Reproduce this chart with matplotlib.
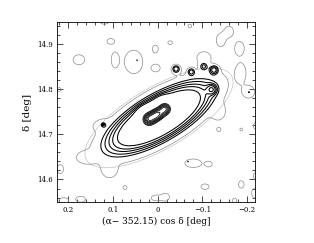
import numpy as np
import matplotlib
matplotlib.use("Agg")
import matplotlib.pyplot as plt
from matplotlib.ticker import MultipleLocator, FuncFormatter

# galaxy model (centre, position angle, scale lengths)
gal_x0, gal_y0 = -0.003, 14.737
gal_pa = 30.0          # deg, counter-clockwise from +x (east to the left)
gal_ha, gal_hb = 0.049, 0.0180

# nucleus knots
nuc_x = [0.020, 0.002, -0.016]
nuc_y = [14.735, 14.746, 14.758]
nuc_amp = [1.9, 1.6, 1.8]
nuc_sig = [0.011, 0.010, 0.010]

blob_x = [0.176, 0.105, 0.096, 0.054, 0.119, 0.220, 0.004, -0.072, -0.028, -0.141,
          -0.160, -0.183, -0.186, -0.204, 0.124, 0.161, 0.107, 0.218, 0.073, 0.210,
          0.172, 0.004, -0.080, -0.115, -0.106, -0.187, -0.222, -0.018, -0.137, -0.187,
          -0.222, -0.222, -0.172, 0.005, -0.103, -0.137]
blob_y = [14.866, 14.907, 14.866, 14.862, 14.951, 14.800, 14.848, 14.941, 14.904, 14.910,
          14.929, 14.892, 14.837, 14.794, 14.720, 14.649, 14.619, 14.623, 14.582, 14.553,
          14.556, 14.559, 14.636, 14.634, 14.584, 14.589, 14.570, 14.561, 14.711, 14.711,
          14.719, 14.608, 14.553, 14.890, 14.872, 14.749]
blob_rx = [0.013, 0.008, 0.007, 0.020, 0.010, 0.004, 0.008, 0.004, 0.005, 0.009,
           0.009, 0.009, 0.008, 0.011, 0.013, 0.013, 0.011, 0.006, 0.004, 0.010,
           0.010, 0.010, 0.018, 0.006, 0.009, 0.006, 0.012, 0.008, 0.004, 0.003,
           0.008, 0.008, 0.005, 0.006, 0.012, 0.010]
blob_ry = [0.011, 0.006, 0.015, 0.025, 0.006, 0.004, 0.007, 0.004, 0.004, 0.013,
           0.011, 0.013, 0.015, 0.011, 0.008, 0.008, 0.011, 0.008, 0.004, 0.006,
           0.006, 0.006, 0.009, 0.005, 0.006, 0.008, 0.012, 0.008, 0.004, 0.003,
           0.008, 0.008, 0.005, 0.008, 0.010, 0.012]

# knots on the galaxy rim and point-like peaks (black dots)
knot_x = [-0.041, -0.075, -0.126, -0.121, -0.103, 0.122]
knot_y = [14.846, 14.840, 14.844, 14.800, 14.852, 14.722]
knot_amp = [0.065, 0.050, 0.065, 0.065, 0.050, 0.035]
knot_sig = [0.007, 0.006, 0.007, 0.007, 0.007, 0.005]
dot_x = [0.046, -0.068, -0.204, -0.222, 0.122]
dot_y = [14.865, 14.640, 14.794, 14.566, 14.722]

bg_level = 0.028
halo_level = 0.022
black_levels = [0.050, 0.062, 0.076, 0.092, 0.118]
nuc_levels = [1.3, 1.5, 1.7, 1.9, 2.1, 2.3, 2.5]

x = np.linspace(0.24, -0.24, 520)
y = np.linspace(14.53, 14.97, 480)
X, Y = np.meshgrid(x, y)


def gauss(x0, y0, sx, sy):
    return np.exp(-((X - x0) ** 2 / (2 * sx ** 2) + (Y - y0) ** 2 / (2 * sy ** 2)))


u = -(X - gal_x0)
v = Y - gal_y0
t = np.radians(gal_pa)
p = u * np.cos(t) + v * np.sin(t)
q = -u * np.sin(t) + v * np.cos(t)
Zgal = np.exp(-np.sqrt((p / gal_ha) ** 2 + (q / gal_hb) ** 2))

# bright component: disc + nucleus + rim knots + point sources
Zb = Zgal.copy()
for bx, by, ba, bs in zip(nuc_x, nuc_y, nuc_amp, nuc_sig):
    Zb += ba * gauss(bx, by, bs, bs)
for bx, by, ba, bs in zip(knot_x, knot_y, knot_amp, knot_sig):
    Zb += ba * gauss(bx, by, bs, bs)
for bx, by in zip(dot_x, dot_y):
    Zb += 0.06 * gauss(bx, by, 0.0012, 0.0012)

# faint patches only reach the grey level: amp 0.045, sigma = r / 0.974
Z = Zb.copy()
for bx, by, rx, ry in zip(blob_x, blob_y, blob_rx, blob_ry):
    Z += 0.045 * gauss(bx, by, rx / 0.974, ry / 0.974)

plt.rcParams["font.family"] = "DejaVu Serif"
fig = plt.figure(figsize=(3.14, 2.43), dpi=100)
ax = fig.add_axes([0.1815, 0.1687, 0.631, 0.741])

ax.contour(X, Y, Zgal, levels=[halo_level], colors="#c4c4c4", linewidths=0.5)
ax.contour(X, Y, Z, levels=[bg_level], colors="#8a8a8a", linewidths=0.5)
ax.contour(X, Y, Zb, levels=black_levels, colors="black", linewidths=0.75)
ax.contour(X, Y, Zb, levels=nuc_levels, colors="black", linewidths=0.55)

ax.set_xlim(0.225, -0.218)
ax.set_ylim(14.55, 14.95)
ax.xaxis.set_major_locator(MultipleLocator(0.1))
ax.xaxis.set_minor_locator(MultipleLocator(0.02))
ax.yaxis.set_major_locator(MultipleLocator(0.1))
ax.yaxis.set_minor_locator(MultipleLocator(0.02))
ax.tick_params(which="both", direction="in", top=True, right=True, labelsize=5, width=0.5, pad=3)
ax.tick_params(which="major", length=4)
ax.tick_params(which="minor", length=2)
ax.xaxis.set_major_formatter(FuncFormatter(
    lambda v, _: "0" if abs(v) < 1e-9 else f"{v:.1f}".replace("-", "\u2212")))
ax.yaxis.set_major_formatter(FuncFormatter(lambda v, _: f"{v:.1f}"))
for s in ax.spines.values():
    s.set_linewidth(0.6)

ax.set_xlabel("(\u03b1\u2212 352.15) cos \u03b4 [deg]", fontsize=6.5, labelpad=2)
ax.set_ylabel("\u03b4 [deg]", fontsize=7.5, labelpad=4)

fig.savefig("out.png", dpi=100)
